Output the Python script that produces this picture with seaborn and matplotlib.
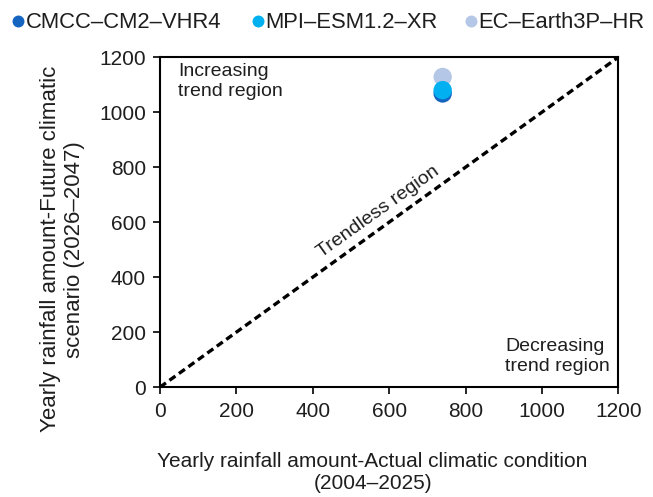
import matplotlib
matplotlib.use("Agg")
import matplotlib.pyplot as plt
import seaborn as sns
import pandas as pd

models = ["CMCC\u2013CM2\u2013VHR4", "MPI\u2013ESM1.2\u2013XR", "EC\u2013Earth3P\u2013HR"]
actual = [740, 740, 740]
future = [1068, 1080, 1128]
colors = ["#1565C0", "#00B0F0", "#B4C7E7"]
draw_order = [2, 0, 1]  # EC first, then CMCC, MPI on top
ref_line = [0, 1200]
ticks = [0, 200, 400, 600, 800, 1000, 1200]

sns.set_theme(style="white")
plt.rcParams["font.family"] = ["Liberation Sans", "DejaVu Sans"]
TXT = "#1e1e1e"
plt.rcParams["text.color"] = TXT
plt.rcParams["axes.labelcolor"] = TXT
plt.rcParams["xtick.color"] = TXT
plt.rcParams["ytick.color"] = TXT

df = pd.DataFrame({"model": [models[i] for i in draw_order],
                   "actual": [actual[i] for i in draw_order],
                   "future": [future[i] for i in draw_order]})

fig = plt.figure(figsize=(6.53, 4.97), dpi=100)
ax = fig.add_axes([0.245, 0.221, 0.702, 0.664])

sns.lineplot(x=ref_line, y=ref_line, ax=ax, color="black", linestyle=(0, (2.2, 1.3)), linewidth=2.4)
sns.scatterplot(data=df, x="actual", y="future", hue="model", hue_order=models, palette=colors,
                s=175, edgecolor="none", ax=ax, legend=True, zorder=3)

ax.set_xlim(0, 1200)
ax.set_ylim(0, 1200)
ax.set_xticks(ticks)
ax.set_yticks(ticks)
ax.tick_params(axis="both", labelsize=15, direction="out", length=5, width=1.2, color="black",
               bottom=True, left=True)
ax.tick_params(axis="x", pad=6)
ax.tick_params(axis="y", pad=5)
for s in ax.spines.values():
    s.set_color("black")
    s.set_linewidth(1.5)

ax.set_xlabel("Yearly rainfall amount-Actual climatic condition\n(2004\u20132025)", fontsize=15)
ax.xaxis.set_label_coords(0.464, -0.196)
ax.set_ylabel("Yearly rainfall amount-Future climatic\nscenario (2026\u20132047)", fontsize=16)
ax.yaxis.set_label_coords(-0.164, 0.418)

ax.text(47, 1178, "Increasing\ntrend region", fontsize=14, va="top", ha="left")
ax.text(903, 178, "Decreasing\ntrend region", fontsize=14, va="top", ha="left", multialignment="left")
ax.text(572, 636, "Trendless region", fontsize=14, rotation=35.5, ha="center", va="center",
        rotation_mode="anchor")

handles, labels = ax.get_legend_handles_labels()
ax.get_legend().remove()
order = {l: h for h, l in zip(handles, labels)}
lefts = [0.0158, 0.3833, 0.7095]
for name, x0 in zip(models, lefts):
    h = order[name]
    h.set_markersize(8.6)
    fig.legend([h], [name], loc="center left", bbox_to_anchor=(x0, 0.954), frameon=False,
               fontsize=15.8, handletextpad=0.0, handlelength=0.7, borderpad=0, borderaxespad=0)

fig.savefig("out.png", dpi=100)
